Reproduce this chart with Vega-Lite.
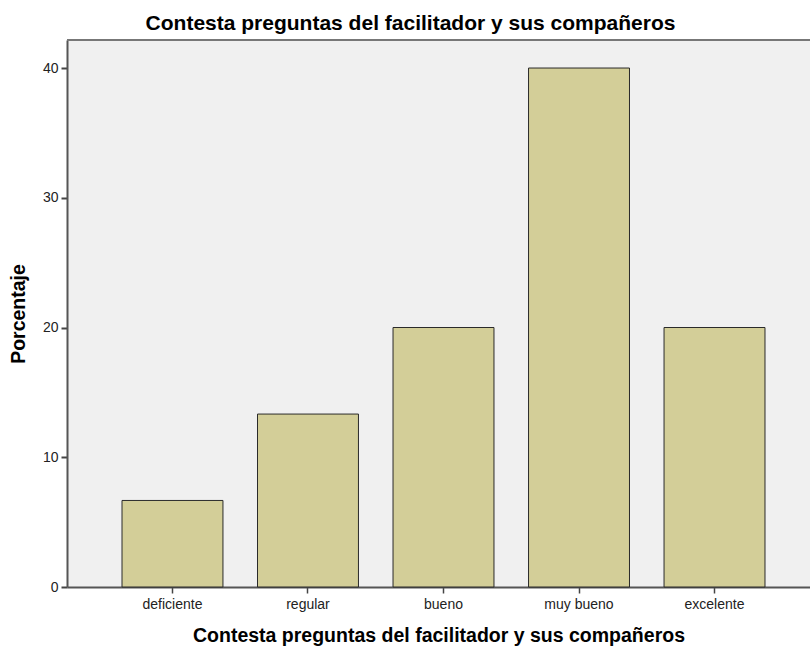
{
  "$schema": "https://vega.github.io/schema/vega-lite/v6.json",
  "width": 743,
  "height": 547,
  "autosize": {"type": "none"},
  "padding": {"left": 67, "top": 40, "right": 0, "bottom": 61},
  "background": "white",
  "config": {
    "view": {"fill": "#f0f0f0", "stroke": null},
    "font": "Liberation Sans"
  },
  "title": {
    "text": "Contesta preguntas del facilitador y sus compañeros",
    "font": "Liberation Sans",
    "fontSize": 21,
    "fontWeight": "bold",
    "color": "#000000",
    "anchor": "middle",
    "dx": -28,
    "offset": 5
  },
  "data": {
    "values": [
      {"categoria": "deficiente", "porcentaje": 6.67},
      {"categoria": "regular", "porcentaje": 13.33},
      {"categoria": "bueno", "porcentaje": 20},
      {"categoria": "muy bueno", "porcentaje": 40},
      {"categoria": "excelente", "porcentaje": 20}
    ]
  },
  "layer": [
    {
      "mark": {"type": "bar", "fill": "#d3ce98", "stroke": "#2a2a2a", "strokeWidth": 1},
      "encoding": {
        "x": {
          "field": "categoria",
          "type": "nominal",
          "sort": null,
          "scale": {"paddingInner": 0.255, "paddingOuter": 0.369, "align": 0.55},
          "axis": {
            "title": "Contesta preguntas del facilitador y sus compañeros",
            "titleFont": "Liberation Sans",
            "titleFontSize": 19.5,
            "titleFontWeight": "bold",
            "titleColor": "#000000",
            "titlePadding": 15,
            "labelAngle": 0,
            "labelFont": "Liberation Sans",
            "labelFontSize": 14,
            "labelColor": "#222222",
            "labelPadding": 4,
            "domainColor": "#555555",
            "domainWidth": 2,
            "tickColor": "#444444",
            "tickSize": 6,
            "tickWidth": 1.5,
            "grid": false
          }
        },
        "y": {
          "field": "porcentaje",
          "type": "quantitative",
          "scale": {"domain": [0, 42.16], "nice": false},
          "axis": {
            "title": "Porcentaje",
            "titleFont": "Liberation Sans",
            "titleFontSize": 19.5,
            "titleFontWeight": "bold",
            "titleColor": "#000000",
            "titlePadding": 14,
            "values": [0, 10, 20, 30, 40],
            "labelFont": "Liberation Sans",
            "labelFontSize": 14,
            "labelColor": "#222222",
            "labelPadding": 3,
            "domainColor": "#555555",
            "domainWidth": 2,
            "tickColor": "#444444",
            "tickSize": 6,
            "tickWidth": 2,
            "grid": false
          }
        }
      }
    },
    {
      "mark": {"type": "rule", "color": "#777777", "strokeWidth": 2},
      "encoding": {"y": {"datum": 42.16}}
    }
  ]
}
